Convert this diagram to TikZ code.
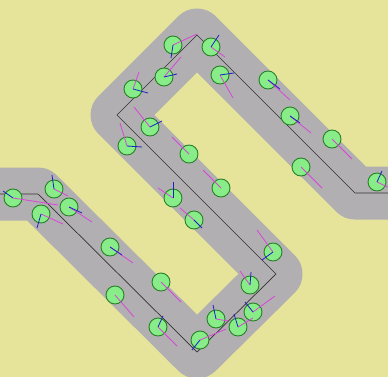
\documentclass[tikz,border=0pt]{standalone}
\usepackage{tikz}

\begin{document}
\begin{tikzpicture}[x=1pt, y=-1pt,
  road/.style={draw=roadgrey, line width=53pt, line join=round},
  lane/.style={draw=lanedark, line width=0.7pt},
  agent/.style={circle, draw=agentedge, fill=agentfill, line width=0.9pt, minimum size=18pt, inner sep=0pt},
  goal/.style={draw=goalpink, line width=0.8pt},
  vel/.style={draw=velblue, line width=0.8pt}]
% colours
  \definecolor{sand}{RGB}{230,228,155}
  \definecolor{roadgrey}{RGB}{177,175,177}
  \definecolor{lanedark}{RGB}{50,50,50}
  \definecolor{agentfill}{RGB}{136,236,136}
  \definecolor{agentedge}{RGB}{40,130,40}
  \definecolor{goalpink}{RGB}{215,70,215}
  \definecolor{velblue}{RGB}{30,30,200}

  \useasboundingbox (0,0) rectangle (388,377);
  \fill[sand] (0,0) rectangle (388,377);
  \clip (0,0) rectangle (388,377);

  % the road and its centre line
  \draw[road] (-10,194) -- (38,194) -- (197,352) -- (276,274) -- (117,115) -- (197,35) -- (355,193) -- (400,193);
  \draw[lane] (-10,194) -- (38,194) -- (197,352) -- (276,274) -- (117,115) -- (197,35) -- (355,193) -- (400,193);

  % agents: centre / goal end / velocity end
  \def\agents{173/45/197/34/171/58, 211/47/225/57/219/35, 164/77/181/57/177/74,
    220/75/233/98/234/73, 133/89/139/72/148/93, 150/127/134/107/162/121,
    268/80/290/100/280/89, 290/116/311/133/300/123, 332/139/352/159/332/139,
    301/167/322/188/301/167, 377/182/394/190/382/171, 13/198/58/205/3/191,
    41/214/63/224/37/228, 54/189/68/196/52/175, 69/207/92/222/82/213,
    110/247/133/263/122/255, 127/146/120/123/142/147, 189/154/172/137/189/154,
    221/188/203/170/221/188, 173/198/158/188/173/182, 194/220/180/208/202/228,
    161/282/181/302/161/282, 115/295/134/317/115/295, 158/327/177/346/163/316,
    216/319/228/321/213/305, 238/327/253/318/234/314, 253/312/275/296/245/302,
    200/340/226/329/192/350, 273/252/257/230/262/260, 250/285/240/271/251/272}

  \foreach \cx/\cy/\mx/\my/\bx/\by [count=\i] in \agents {
    \node[agent] (a\i) at (\cx,\cy) {};
  }
  \foreach \cx/\cy/\mx/\my/\bx/\by [count=\i] in \agents {
    \draw[goal] (a\i.center) -- (\mx,\my);
    \draw[vel] (a\i.center) -- (\bx,\by);
  }

\end{tikzpicture}
\end{document}
